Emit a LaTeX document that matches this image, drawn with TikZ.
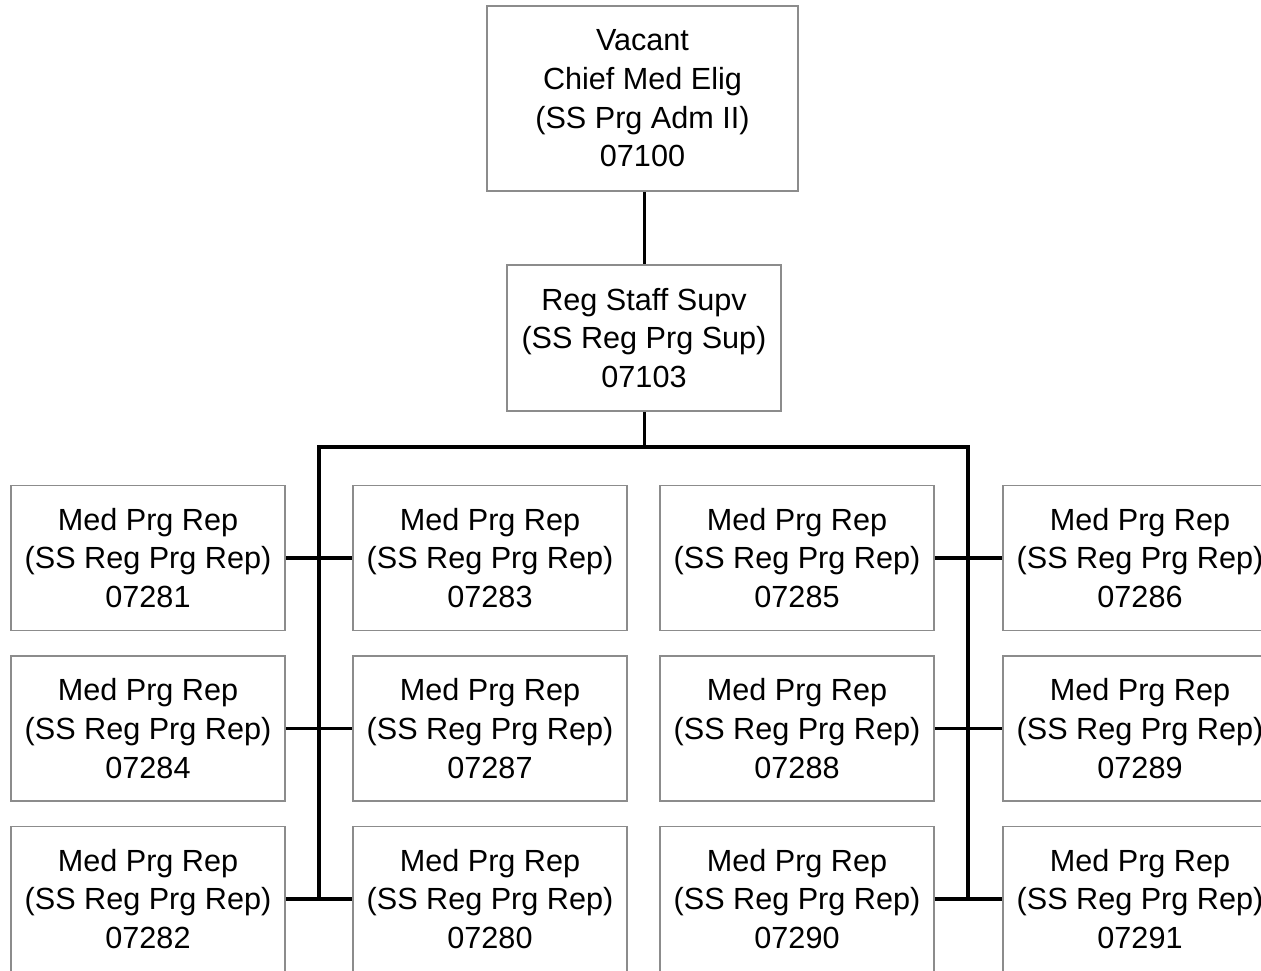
\documentclass[tikz,border=0pt]{standalone}
\usepackage{fontspec}
\setmainfont{Liberation Sans}
\definecolor{boxgray}{RGB}{140,140,140}
\tikzset{
  orgbox/.style={draw=boxgray, line width=1.8pt, rectangle, align=center, inner sep=0pt,
     font=\fontsize{30.6}{38.7}\selectfont, text=black},
  repbox/.style={orgbox, minimum width=274pt, minimum height=145pt},
  conn/.style={draw=black, line width=3.8pt}
}
\begin{document}
\begin{tikzpicture}[x=1pt,y=-1pt]
\useasboundingbox (0,0) rectangle (1261,970);
\clip (0,0) rectangle (1261,970);
\node[orgbox, minimum width=311pt, minimum height=185pt] (chief) at (642.5,98.5) {Vacant\\Chief Med Elig\\(SS Prg Adm II)\\07100};
\node[orgbox, minimum width=274pt, minimum height=146pt] (sup) at (644,338) {Reg Staff Supv\\(SS Reg Prg Sup)\\07103};
% rows
\foreach \n/\x/\y/\t in {a1/148/558/07281, a2/490/558/07283, a3/797/558/07285, a4/1140/558/07286,
                         b1/148/728.5/07284, b2/490/728.5/07287, b3/797/728.5/07288, b4/1140/728.5/07289,
                         c1/148/899/07282, c2/490/899/07280, c3/797/899/07290, c4/1140/899/07291}
  \node[repbox] (\n) at (\x,\y) {Med Prg Rep\\(SS Reg Prg Rep)\\\t};
\coordinate (busM) at (644.5,447);
\coordinate (busL) at (319,447);
\coordinate (busR) at (968,447);
\coordinate (endL) at (319,899);
\coordinate (endR) at (968,899);
\draw[conn] (chief.south -| busM) -- (sup.north -| busM);
\draw[conn] (sup.south -| busM) -- (busM);
\draw[conn, line join=miter] (endL) -- (busL) -- (busR) -- (endR);
\foreach \r in {a,b,c}{
  \draw[conn] (\r1.east) -- (\r2.west);
  \draw[conn] (\r3.east) -- (\r4.west);
}
\end{tikzpicture}
\end{document}
